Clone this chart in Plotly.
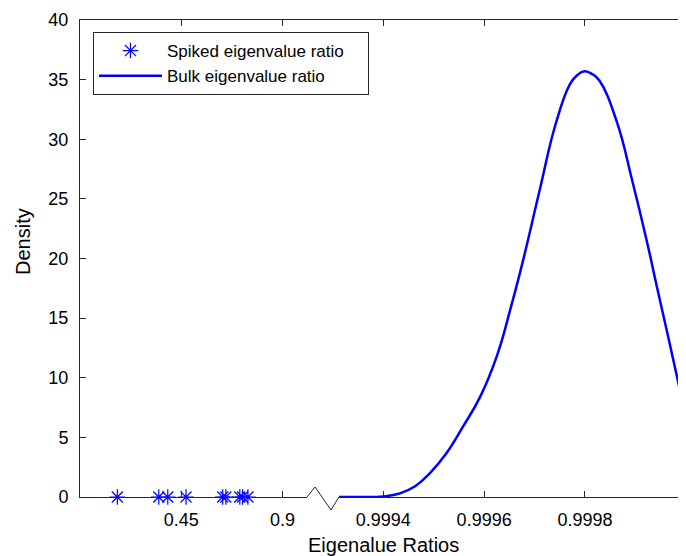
import plotly.graph_objects as go

# spiked eigenvalue ratios (left, compressed part of the axis)
spiked_x = [0.166, 0.350, 0.390, 0.471, 0.634, 0.648, 0.710, 0.722, 0.746]
spiked_y = [0, 0, 0, 0, 0, 0, 0, 0, 0]

# bulk eigenvalue ratio density (right part of the axis)
bulk_x = [0.999312, 0.999354, 0.999399, 0.999433, 0.999463, 0.999492, 0.999524,
          0.999558, 0.999592, 0.999625, 0.999653, 0.999677, 0.999710, 0.999742,
          0.999770, 0.999784, 0.999799, 0.999815, 0.999829, 0.999863, 0.999894,
          0.999922, 0.999944, 0.999968, 0.999993]
bulk_y = [0.0, 0.0, 0.05, 0.3, 0.9, 1.98, 3.6,
          5.9, 8.4, 11.8, 15.9, 19.8, 25.7, 31.3,
          34.6, 35.35, 35.7, 35.45, 34.9, 31.5, 26.5,
          21.6, 17.4, 12.9, 8.1]

left_ticks = [0.45, 0.9]
left_labels = ["0.45", "0.9"]
right_ticks = [0.9994, 0.9996, 0.9998, 1.0]
right_labels = ["0.9994", "0.9996", "0.9998", "1"]

FONT = "Liberation Sans, Arial, Helvetica, sans-serif"
AX = "#262626"
BLUE = "#0000FF"
PAD = "\u00a0" * 4  # a little room on the right of the legend text

fig = go.Figure()

fig.add_trace(go.Scatter(
    x=spiked_x, y=spiked_y, mode="markers", name="Spiked eigenvalue ratio" + PAD,
    xaxis="x", yaxis="y", cliponaxis=False,
    marker=dict(symbol="asterisk-open", size=13, color=BLUE,
                line=dict(color=BLUE, width=1.2)),
))
fig.add_trace(go.Scatter(
    x=bulk_x, y=bulk_y, mode="lines", name="Bulk eigenvalue ratio",
    xaxis="x2", yaxis="y",
    line=dict(color=BLUE, width=2.5, shape="spline", smoothing=1.3),
))

axis_common = dict(showline=True, linecolor=AX, linewidth=1, ticks="inside",
                   ticklen=6, tickcolor=AX, showgrid=False, zeroline=False,
                   tickfont=dict(family=FONT, size=18, color="#000"))

# page body has an 8px margin, so the figure is 8px smaller than the window
W, H = 606, 477  # plot area
left_end = (307 - 80) / W
right_start = (339 - 80) / W

fig.update_layout(
    width=678, height=548,
    margin=dict(l=72, r=0, t=12, b=59),
    paper_bgcolor="white", plot_bgcolor="white",
    font=dict(family=FONT, size=18, color="#000"),
    showlegend=True,
    legend=dict(x=(93 - 80) / W, y=(497 - 32) / H, xanchor="left", yanchor="top",
                bgcolor="white", bordercolor=AX, borderwidth=1,
                font=dict(family=FONT, size=17, color="#000"),
                tracegroupgap=0, itemwidth=63),
    xaxis=dict(domain=[0, left_end], range=[0, 1.0085], anchor="y", mirror="ticks",
               tickvals=left_ticks, ticktext=left_labels, ticklabelstandoff=6,
               **axis_common),
    xaxis2=dict(domain=[right_start, 1], range=[0.999312, 1.0000005], anchor="y",
                mirror="ticks", tickvals=right_ticks, ticktext=right_labels,
                ticklabelstandoff=6, **axis_common),
    yaxis=dict(range=[0, 40], dtick=5, anchor="x", ticklabelstandoff=7, **axis_common),
    yaxis2=dict(range=[0, 40], dtick=5, anchor="x2", overlaying="y", side="right",
                showticklabels=False, **axis_common),
    annotations=[
        dict(text="Eigenalue Ratios", xref="paper", yref="paper", x=0.5, y=(497 - 545) / H,
             xanchor="center", yanchor="middle", showarrow=False,
             font=dict(family=FONT, size=20, color="#000")),
        dict(text="Density", xref="paper", yref="paper", x=(23 - 80) / W, y=(497 - 242) / H,
             xanchor="center", yanchor="middle", showarrow=False, textangle=-90,
             font=dict(family=FONT, size=20, color="#000")),
    ],
    shapes=[
        # continuous top border across the break
        dict(type="line", xref="paper", yref="paper", x0=0, x1=1,
             y0=1 + 0.5 / H, y1=1 + 0.5 / H, line=dict(color=AX, width=1)),
        # zig-zag break mark on the bottom axis
        dict(type="path", xref="paper", yref="paper",
             path=f"M {left_end},0 L {(315 - 80) / W},{10 / H} "
                  f"L {(331 - 80) / W},{-13 / H} L {right_start},0",
             line=dict(color=AX, width=1)),
    ],
)

fig.write_html("out.html")
